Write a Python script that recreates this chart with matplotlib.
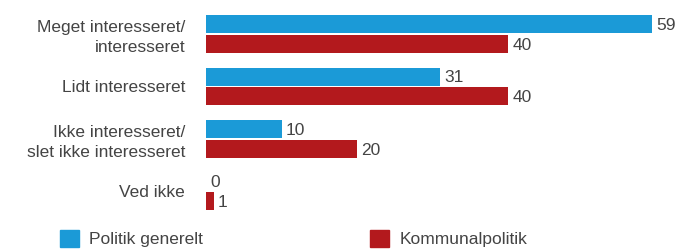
import matplotlib.pyplot as plt
import numpy as np
from matplotlib.patches import Patch

plt.rcParams['font.family'] = ['Liberation Sans', 'DejaVu Sans']

categories = ["Meget interesseret/\ninteresseret", "Lidt interesseret",
              "Ikke interesseret/\nslet ikke interesseret", "Ved ikke"]
politik_generelt = [59, 31, 10, 0]
kommunalpolitik = [40, 40, 20, 1]
series_names = ["Politik generelt", "Kommunalpolitik"]

blue = '#1b9ad7'
red = '#b3191d'
txt = '#444444'
fs = 12.5

fig = plt.figure(figsize=(6.82, 2.49), dpi=100)
# axes: x from pixel 206 to 682, y from pixel 5 to 215
ax = fig.add_axes([206 / 682, 1 - 215 / 249, 476 / 682, 210 / 249])

y = np.arange(len(categories))
h = 0.343
off = 0.19
b1 = ax.barh(y - off, politik_generelt, height=h, color=blue)
b2 = ax.barh(y + off, kommunalpolitik, height=h, color=red)

for bars, vals in ((b1, politik_generelt), (b2, kommunalpolitik)):
    for rect, v in zip(bars, vals):
        ax.annotate(str(v), (rect.get_width(), rect.get_y() + rect.get_height() / 2),
                    xytext=(3, -1), textcoords='offset points',
                    ha='left', va='center', fontsize=fs, color=txt)

ax.set_xlim(0, 63)
ax.set_ylim(3.448, -0.552)
ax.set_yticks(y)
ax.set_yticklabels(categories, fontsize=fs, color=txt, linespacing=1.4)
ax.tick_params(axis='y', length=0, pad=15)
ax.set_xticks([])
for s in ax.spines.values():
    s.set_visible(False)

handles = [Patch(color=blue), Patch(color=red)]
fig.legend(handles, series_names, ncol=2, loc='lower left',
           bbox_to_anchor=(44 / 682, -0.055), frameon=False, fontsize=fs,
           handlelength=1.1, handleheight=1.1, handletextpad=0.6,
           columnspacing=9.6, labelcolor=txt)

fig.savefig('out.png', dpi=100)
